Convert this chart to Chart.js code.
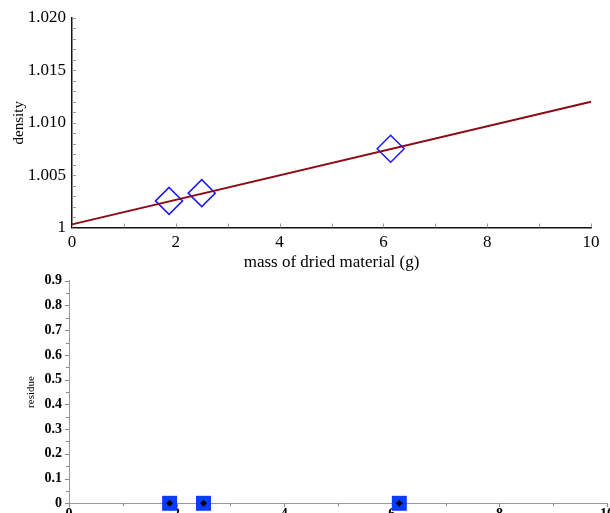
<!DOCTYPE html>
<html>
<head>
<meta charset="utf-8">
<script src="https://cdn.jsdelivr.net/npm/chart.js@4.4.1/dist/chart.umd.min.js"></script>
<style>
    html, body { margin: 0; padding: 0; background: #fff; overflow: hidden; width: 610px; height: 513px; }
    #densityChart { position: absolute; left: 0; top: 0; }
    #residueChart { position: absolute; left: 0; top: 262px; }
</style>
</head>
<body>
<canvas id="densityChart" width="610" height="275"></canvas>
<canvas id="residueChart" width="625" height="275"></canvas>
<script>
// measured points
const massValues = [1.87, 2.50, 6.14];
const densityValues = [1.00254, 1.00328, 1.00752];
const residueValues = [0, 0, 0];

// fitted line end points
const fitMass = [0, 10];
const fitDensity = [1.0003, 1.0120];

// tick labels
const massTicks = [0, 2, 4, 6, 8, 10];
const massLabels = ['0', '2', '4', '6', '8', '10'];
const densityTicks = [1, 1.005, 1.010, 1.015, 1.020];
const densityLabels = ['1', '1.005', '1.010', '1.015', '1.020'];
const residueTicks = [0, 0.1, 0.2, 0.3, 0.4, 0.5, 0.6, 0.7, 0.8, 0.9];
const residueLabels = ['0', '0.1', '0.2', '0.3', '0.4', '0.5', '0.6', '0.7', '0.8', '0.9'];

// small tick marks drawn along the axes (minor ones too)
const tickMarks = {
    id: 'tickMarks',
    beforeDatasetsDraw(chart, args, opts) {
        const ctx = chart.ctx;
        const area = chart.chartArea;
        ctx.save();
        ctx.strokeStyle = opts.color;
        ctx.lineWidth = 1;
        opts.marks.forEach(m => {
            const scale = chart.scales[m.axis];
            const n = Math.round((scale.max - scale.min) / m.step);
            for (let i = 0; i <= n; i++) {
                const v = scale.min + i * m.step;
                const len = (i % m.every === 0) ? m.major : m.minor;
                const p = Math.round(scale.getPixelForValue(v)) + 0.5;
                ctx.beginPath();
                if (m.axis === 'x') {
                    ctx.moveTo(p, area.bottom);
                    ctx.lineTo(p, area.bottom + m.dir * len);
                } else {
                    ctx.moveTo(area.left, p);
                    ctx.lineTo(area.left + m.dir * len, p);
                }
                ctx.stroke();
            }
        });
        ctx.restore();
    }
};

const serif = 'Liberation Serif, Times New Roman, serif';

// Density chart
const densityCtx = document.getElementById('densityChart').getContext('2d');
const densityChart = new Chart(densityCtx, {
    type: 'scatter',
    data: {
        datasets: [{
            label: 'fit',
            data: fitMass.map((x, i) => ({ x: x, y: fitDensity[i] })),
            showLine: true,
            borderColor: '#8b0a14',
            borderWidth: 2,
            pointRadius: 0,
            clip: false
        }, {
            label: 'density',
            data: massValues.map((x, i) => ({ x: x, y: densityValues[i] })),
            pointStyle: 'rectRot',
            pointRadius: 13.5,
            pointHoverRadius: 13.5,
            pointBorderColor: '#1a1aff',
            pointBackgroundColor: 'rgba(0,0,0,0)',
            pointBorderWidth: 1.5,
            clip: false
        }]
    },
    plugins: [tickMarks],
    options: {
        responsive: false,
        animation: false,
        layout: { padding: { top: 18, right: 19, left: 0, bottom: 0 } },
        plugins: {
            legend: { display: false },
            tooltip: { enabled: false },
            tickMarks: {
                color: '#999',
                marks: [
                    { axis: 'x', step: 1, every: 2, major: 4, minor: 4, dir: -1 },
                    { axis: 'y', step: 0.001, every: 5, major: 4, minor: 4, dir: 1 }
                ]
            }
        },
        scales: {
            x: {
                type: 'linear',
                min: 0,
                max: 10,
                afterBuildTicks: s => { s.ticks = massTicks.map(v => ({ value: v })); },
                afterFit: s => { s.height = 275 - 227.5; },
                grid: { drawOnChartArea: false, drawTicks: false },
                border: { color: '#111', width: 1.5 },
                ticks: {
                    padding: 5,
                    color: '#000',
                    font: { family: serif, size: 17 },
                    callback: (v, i) => massLabels[i]
                },
                title: {
                    display: true,
                    text: 'mass of dried material (g)',
                    color: '#000',
                    font: { family: serif, size: 17 },
                    padding: { top: 0, bottom: 2 }
                }
            },
            y: {
                type: 'linear',
                min: 1,
                max: 1.02,
                afterBuildTicks: s => { s.ticks = densityTicks.map(v => ({ value: v })); },
                afterFit: s => { s.width = 72; },
                grid: { drawOnChartArea: false, drawTicks: false },
                border: { color: '#111', width: 1.5 },
                ticks: {
                    padding: 6,
                    color: '#000',
                    font: { family: serif, size: 17 },
                    callback: (v, i) => densityLabels[i]
                },
                title: {
                    display: true,
                    text: 'density',
                    color: '#000',
                    font: { family: serif, size: 15 },
                    padding: { top: 10, bottom: 0 }
                }
            }
        }
    }
});

// Residue chart
const residueCtx = document.getElementById('residueChart').getContext('2d');
const residueChart = new Chart(residueCtx, {
    type: 'scatter',
    data: {
        datasets: [{
            label: 'centre',
            data: massValues.map((x, i) => ({ x: x, y: residueValues[i] })),
            pointStyle: 'rectRot',
            pointRadius: 3.5,
            pointBorderWidth: 0,
            pointBackgroundColor: '#000',
            order: 0,
            clip: false
        }, {
            label: 'residue',
            data: massValues.map((x, i) => ({ x: x, y: residueValues[i] })),
            pointStyle: 'rect',
            pointRadius: 10.6,
            pointBorderWidth: 0,
            pointBackgroundColor: '#0a3cff',
            order: 1,
            clip: false
        }]
    },
    plugins: [tickMarks],
    options: {
        responsive: false,
        animation: false,
        layout: { padding: { top: 18.7, right: 18, left: 0, bottom: 0 } },
        plugins: {
            legend: { display: false },
            tooltip: { enabled: false },
            tickMarks: {
                color: '#888',
                marks: [
                    { axis: 'x', step: 1, every: 2, major: 4, minor: 3, dir: 1 },
                    { axis: 'y', step: 0.05, every: 2, major: 4, minor: 3, dir: -1 }
                ]
            }
        },
        scales: {
            x: {
                type: 'linear',
                min: 0,
                max: 10,
                afterBuildTicks: s => { s.ticks = massTicks.map(v => ({ value: v })); },
                afterFit: s => { s.height = 275 - 241.3; },
                grid: { drawOnChartArea: false, drawTicks: false },
                border: { color: '#999', width: 1 },
                ticks: {
                    padding: 3,
                    color: '#000',
                    font: { family: serif, size: 14, weight: 'bold' },
                    callback: (v, i) => massLabels[i]
                }
            },
            y: {
                type: 'linear',
                min: 0,
                max: 0.9,
                afterBuildTicks: s => { s.ticks = residueTicks.map(v => ({ value: v })); },
                afterFit: s => { s.width = 69; },
                grid: { drawOnChartArea: false, drawTicks: false },
                border: { color: '#999', width: 1 },
                ticks: {
                    padding: 7,
                    color: '#000',
                    font: { family: serif, size: 14, weight: 'bold' },
                    callback: (v, i) => residueLabels[i]
                },
                title: {
                    display: true,
                    text: 'residue',
                    color: '#000',
                    font: { family: serif, size: 11 },
                    padding: { top: 25, bottom: 0 }
                }
            }
        }
    }
});
</script>
</body>
</html>
